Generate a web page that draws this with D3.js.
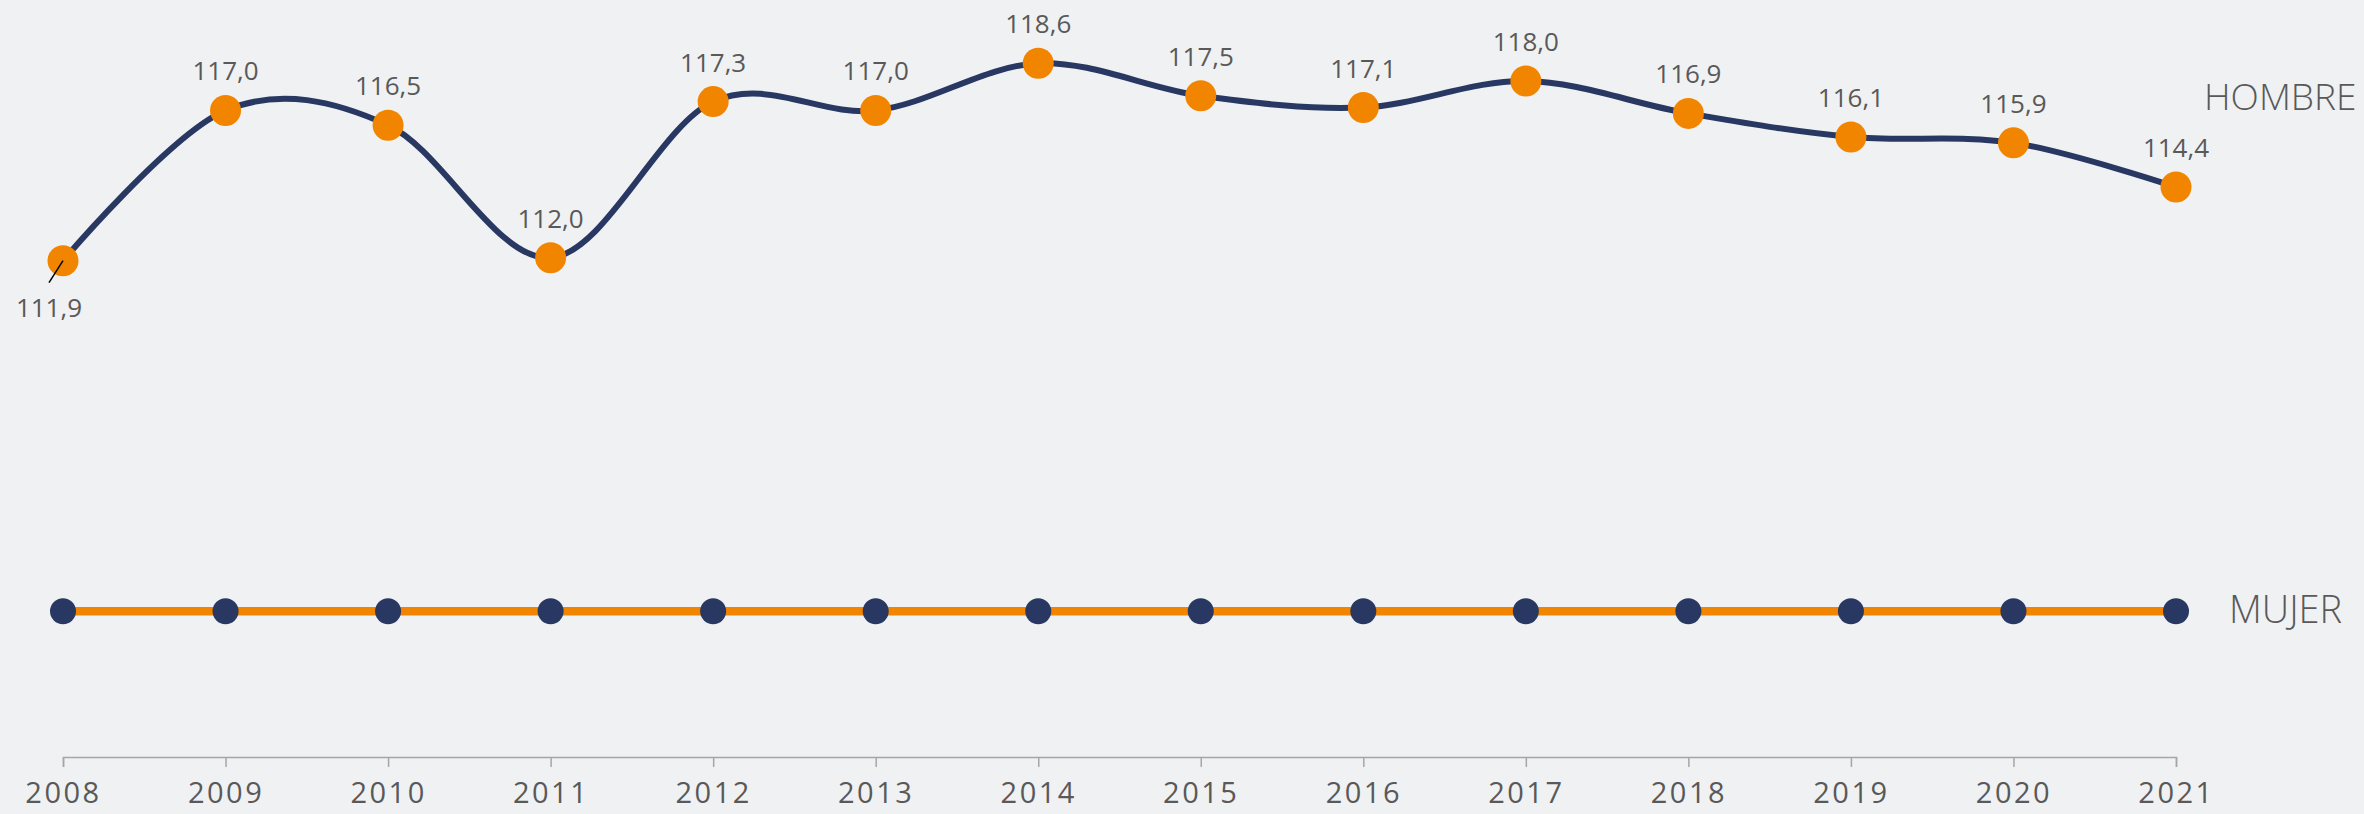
<!DOCTYPE html>
<html>
<head>
<meta charset="utf-8">
<script src="https://cdn.jsdelivr.net/npm/d3@7"></script>
<style>
	html, body { margin: 0; padding: 0; background: #f0f1f3; }
	text { font-family: "Open Sans", sans-serif; fill: #595959; }
</style>
</head>
<body>
<svg class="chart"></svg>
<script>
// Chart data

var years = ["2008","2009","2010","2011","2012","2013","2014","2015","2016","2017","2018","2019","2020","2021"];
var hombre = [111.9, 117.0, 116.5, 112.0, 117.3, 117.0, 118.6, 117.5, 117.1, 118.0, 116.9, 116.1, 115.9, 114.4];
var mujer = [100, 100, 100, 100, 100, 100, 100, 100, 100, 100, 100, 100, 100, 100];
var seriesNames = ["HOMBRE", "MUJER"];

// Basic dimensions

var width = 2364,
	height = 814,
	navy = "#283862",
	orange = "#f28500",
	fmt = function(v) { return v.toFixed(1).replace(".", ","); };

var chart = d3.select(".chart")
	.attr("width", width)
	.attr("height", height);

var x = d3.scalePoint()
	.domain(years)
	.range([63, 2176]);

// px per unit measured ~29.5, 111.9 sits at y 260.7
var y = d3.scaleLinear()
	.domain([100, 118.6])
	.range([260.7 + 11.9 * 29.46, 260.7 - 6.7 * 29.46]);

// Axis at the bottom

var axis = d3.axisBottom(x)
	.tickSize(10)
	.tickPadding(15);

var gAxis = chart.append("g")
	.attr("transform", "translate(0,757)")
	.call(axis);
gAxis.select(".domain").attr("stroke", "#a6a6a6").attr("stroke-width", 1.5);
gAxis.selectAll(".tick line").attr("stroke", "#a6a6a6").attr("stroke-width", 1.5);
gAxis.selectAll(".tick text")
	.style("font-family", "'Open Sans', sans-serif")
	.style("font-size", "29px")
	.style("letter-spacing", "2.5px")
	.attr("fill", "#595959");

// MUJER: flat orange line with navy dots

var line = d3.line()
	.x(function(d, i) { return x(years[i]); })
	.y(function(d) { return y(d); });

chart.append("path")
	.datum(mujer)
	.attr("d", line)
	.attr("fill", "none")
	.attr("stroke", orange)
	.attr("stroke-width", 8.5);

chart.selectAll(".mdot")
	.data(mujer)
.enter().append("circle")
	.attr("class", "mdot")
	.attr("cx", function(d, i) { return x(years[i]); })
	.attr("cy", function(d) { return y(d); })
	.attr("r", 13)
	.attr("fill", navy);

// HOMBRE: smoothed navy line with orange dots

var smooth = d3.line()
	.x(function(d, i) { return x(years[i]); })
	.y(function(d) { return y(d); })
	.curve(d3.curveCardinal.tension(0));

chart.append("path")
	.datum(hombre)
	.attr("d", smooth)
	.attr("fill", "none")
	.attr("stroke", navy)
	.attr("stroke-width", 6);

chart.selectAll(".hdot")
	.data(hombre)
.enter().append("circle")
	.attr("class", "hdot")
	.attr("cx", function(d, i) { return x(years[i]); })
	.attr("cy", function(d) { return y(d); })
	.attr("r", 15.5)
	.attr("fill", orange);

// Value labels (first one sits below with a leader line)

chart.append("line")
	.attr("x1", x(years[0]))
	.attr("y1", y(hombre[0]))
	.attr("x2", x(years[0]) - 14)
	.attr("y2", y(hombre[0]) + 22)
	.attr("stroke", "#000")
	.attr("stroke-width", 1.5);

chart.selectAll(".vlabel")
	.data(hombre)
.enter().append("text")
	.attr("class", "vlabel")
	.attr("x", function(d, i) { return i == 0 ? x(years[i]) - 14 : x(years[i]); })
	.attr("y", function(d, i) { return i == 0 ? y(d) + 56 : y(d) - 30; })
	.attr("text-anchor", "middle")
	.style("font-size", "26px")
	.text(fmt);

// Series names on the right

chart.append("text")
	.attr("x", 2204)
	.attr("y", 110)
	.style("font-size", "37px")
	.style("font-weight", 300)
	.text(seriesNames[0]);

chart.append("text")
	.attr("x", 2229)
	.attr("y", 623)
	.style("font-size", "38px")
	.style("font-weight", 300)
	.text(seriesNames[1]);
</script>
</body>
</html>
